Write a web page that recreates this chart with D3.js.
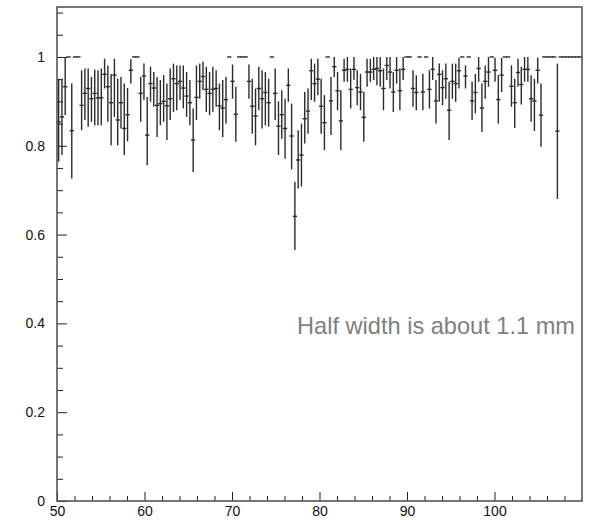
<!DOCTYPE html>
<html>
<head>
<meta charset="utf-8">
<script src="https://cdn.jsdelivr.net/npm/d3@7"></script>
<style>
  body { margin: 0; background: #fff; }
  svg { display: block; }
  .axis text { font-family: "Liberation Sans", Arial, sans-serif; font-size: 14px; fill: #111; }
  .axis line { stroke: #222; }
  .axis path { display: none; }
</style>
</head>
<body>
<div id="chart"></div>
<script>
var margin = { top: 7, right: 12, bottom: 19, left: 57 };
var width = 594 - margin.left - margin.right;
var height = 520 - margin.top - margin.bottom;

// x range and binning (0.375 wide bins, 160 of them)
var xMin = 50, xMax = 110;
var binWidth = 0.375;

// efficiency per bin
var val = [
  0.854, 0.865, 0.933, 1, 0.834, 1, 1, 0.891, 0.918, 0.929,
  0.906, 0.918, 0.908, 0.908, 0.961, 0.933, 0.897, 0.959, 0.858, 0.897,
  0.839, 0.87, 0.97, 1, 1, 0.918, 0.957, 0.824, 0.94, 0.93,
  0.891, 0.895, 0.9, 0.89, 0.906, 0.951, 0.94, 0.945, 0.93, 0.912,
  0.897, 0.813, 0.909, 0.945, 0.956, 0.927, 0.918, 0.927, 0.929, 0.89,
  0.885, 0.904, 1, 0.945, 0.871, 1, 1, 1, 0.945, 0.889,
  0.867, 0.929, 0.906, 0.92, 0.897, 1, 0.918, 0.844, 0.87, 0.839,
  0.936, 0.822, 0.641, 0.768, 0.779, 0.861, 0.878, 0.969, 0.94, 0.95,
  0.889, 0.852, 1, 0.901, 0.978, 0.924, 0.856, 0.97, 0.972, 0.927,
  0.972, 0.931, 0.921, 0.864, 0.966, 0.966, 0.972, 0.974, 0.969, 0.929,
  0.981, 0.966, 0.921, 0.97, 0.924, 0.972, 1, 1, 0.929, 0.92,
  1, 0.921, 1, 0.927, 0.972, 0.901, 0.961, 0.931, 0.951, 0.88,
  0.945, 0.94, 0.969, 1, 0.957, 1, 0.901, 0.92, 0.974, 0.885,
  0.945, 0.966, 1, 0.97, 0.904, 0.959, 1, 1, 0.934, 0.897,
  0.965, 0.938, 0.972, 0.972, 0.906, 0.901, 0.97, 0.869, 1, 1,
  1, 1, 0.833, 1, 1, 1, 1, 1, 1, 1
];
// upper end of each error bar
var hi = [
  0.951, 0.951, 1.0, 1, 0.94, 1, 1, 0.97, 0.974, 0.974,
  0.955, 0.972, 0.97, 0.974, 0.996, 0.981, 0.962, 0.996, 0.951, 0.955,
  0.94, 0.93, 0.995, 1, 1, 0.955, 0.985, 0.91, 0.978, 0.966,
  0.955, 0.948, 0.959, 0.94, 0.974, 0.985, 0.981, 0.981, 0.981, 0.966,
  0.948, 0.884, 0.981, 0.985, 0.989, 0.978, 0.966, 0.978, 0.97, 0.94,
  0.948, 0.955, 1, 0.983, 0.933, 1, 1, 1, 0.983, 0.951,
  0.929, 0.978, 0.97, 0.966, 0.951, 1, 0.974, 0.9, 0.925, 0.906,
  0.974, 0.895, 0.719, 0.835, 0.85, 0.921, 0.929, 0.996, 0.985, 0.996,
  0.951, 0.914, 1, 0.955, 1.0, 0.966, 0.925, 0.996, 1.0, 0.974,
  1.0, 0.97, 0.962, 0.921, 0.996, 0.996, 1.0, 1.0, 1.0, 0.974,
  1.0, 1.0, 0.966, 1.0, 0.974, 1.0, 1, 1, 0.97, 0.959,
  1, 0.962, 1, 0.97, 1.0, 0.948, 0.985, 0.97, 0.985, 0.944,
  0.985, 0.985, 0.998, 1, 0.981, 1, 0.944, 0.962, 1.0, 0.94,
  0.981, 1.0, 1, 0.998, 0.959, 0.998, 1, 1, 0.981, 0.951,
  0.996, 0.978, 1.0, 1.0, 0.959, 0.951, 0.998, 0.94, 1, 1,
  1, 1, 0.985, 1, 1, 1, 1, 1, 1, 1
];
// lower end of each error bar
var lo = [
  0.764, 0.779, 0.869, 1, 0.726, 1, 1, 0.835, 0.858, 0.843,
  0.854, 0.846, 0.846, 0.846, 0.929, 0.854, 0.801, 0.865, 0.801, 0.839,
  0.779, 0.81, 0.94, 1, 1, 0.854, 0.903, 0.756, 0.899, 0.888,
  0.82, 0.846, 0.854, 0.813, 0.858, 0.876, 0.88, 0.903, 0.884, 0.865,
  0.846, 0.741, 0.858, 0.906, 0.925, 0.876, 0.869, 0.876, 0.888, 0.835,
  0.82, 0.85, 1, 0.906, 0.809, 1, 1, 1, 0.906, 0.827,
  0.801, 0.88, 0.839, 0.846, 0.843, 1, 0.858, 0.779, 0.816, 0.771,
  0.899, 0.747, 0.565, 0.704, 0.708, 0.805, 0.827, 0.903, 0.899, 0.914,
  0.827, 0.79, 1, 0.824, 0.955, 0.88, 0.79, 0.944, 0.944, 0.884,
  0.948, 0.891, 0.88, 0.809, 0.933, 0.944, 0.948, 0.936, 0.933, 0.88,
  0.948, 0.929, 0.876, 0.94, 0.88, 0.948, 1, 1, 0.888, 0.88,
  1, 0.88, 1, 0.884, 0.948, 0.85, 0.899, 0.891, 0.906, 0.813,
  0.906, 0.899, 0.929, 1, 0.929, 1, 0.858, 0.873, 0.944, 0.831,
  0.906, 0.933, 1, 0.944, 0.85, 0.921, 1, 1, 0.888, 0.84,
  0.933, 0.893, 0.944, 0.944, 0.854, 0.833, 0.94, 0.798, 1, 1,
  1, 1, 0.68, 1, 1, 1, 1, 1, 1, 1
];

var yMajor = [0, 0.2, 0.4, 0.6, 0.8, 1];
var yMinor = [0.05, 0.1, 0.15, 0.25, 0.3, 0.35, 0.45, 0.5, 0.55, 0.65, 0.7, 0.75, 0.85, 0.9, 0.95, 1.05, 1.1];
var xMajor = [50, 60, 70, 80, 90, 100];
var xMinor = [52, 54, 56, 58, 62, 64, 66, 68, 72, 74, 76, 78, 82, 84, 86, 88, 92, 94, 96, 98, 102, 104, 106, 108];

var svg = d3.select("#chart").append("svg")
  .attr("width", width + margin.left + margin.right)
  .attr("height", height + margin.top + margin.bottom)
  .append("g")
  .attr("transform", "translate(" + margin.left + "," + margin.top + ")");

var x = d3.scaleLinear().domain([xMin, xMax]).range([0, width]);
var y = d3.scaleLinear().domain([0, 1.1125]).range([height, 0]);

var bins = val.map(function(v, i) {
  var x0 = xMin + i * binWidth;
  return { x0: x0, x1: x0 + binWidth, v: v, lo: lo[i], hi: hi[i] };
});

// error bars
var pts = svg.append("g")
  .attr("stroke", "#2b2b2b")
  .attr("stroke-width", 1.4);

pts.selectAll(".eb").data(bins.filter(function(d) { return d.hi > d.lo; }))
  .enter().append("line")
  .attr("x1", function(d) { return x((d.x0 + d.x1) / 2); })
  .attr("x2", function(d) { return x((d.x0 + d.x1) / 2); })
  .attr("y1", function(d) { return y(d.hi); })
  .attr("y2", function(d) { return y(d.lo); });

// horizontal bin-width markers
pts.selectAll(".hb").data(bins)
  .enter().append("line")
  .attr("x1", function(d) { return x(d.x0) - 0.5; })
  .attr("x2", function(d) { return x(d.x1) + 0.5; })
  .attr("y1", function(d) { return y(d.v); })
  .attr("y2", function(d) { return y(d.v); });

// axes, ticks pointing inward
svg.append("g").attr("class", "axis")
  .call(d3.axisLeft(y).tickValues(yMinor).tickSizeInner(-6).tickSizeOuter(0).tickFormat(""));
svg.append("g").attr("class", "axis")
  .call(d3.axisLeft(y).tickValues(yMajor).tickSizeInner(-10).tickSizeOuter(0).tickPadding(12)
    .tickFormat(function(d) { return String(+d.toFixed(1)); }));

svg.append("g").attr("class", "axis")
  .attr("transform", "translate(0," + height + ")")
  .call(d3.axisBottom(x).tickValues(xMinor).tickSizeInner(-5).tickSizeOuter(0).tickFormat(""));
svg.append("g").attr("class", "axis")
  .attr("transform", "translate(0," + height + ")")
  .call(d3.axisBottom(x).tickValues(xMajor).tickSizeInner(-9).tickSizeOuter(0).tickPadding(5));

// frame
svg.append("rect")
  .attr("width", width)
  .attr("height", height)
  .attr("fill", "none")
  .attr("stroke", "#555")
  .attr("stroke-width", 1.6);

svg.append("text")
  .attr("x", 240)
  .attr("y", 327)
  .attr("fill", "#7f7f7f")
  .style("font-family", "Liberation Sans, Arial, sans-serif")
  .style("font-size", "23.6px")
  .text("Half width is about 1.1 mm");
</script>
</body>
</html>
